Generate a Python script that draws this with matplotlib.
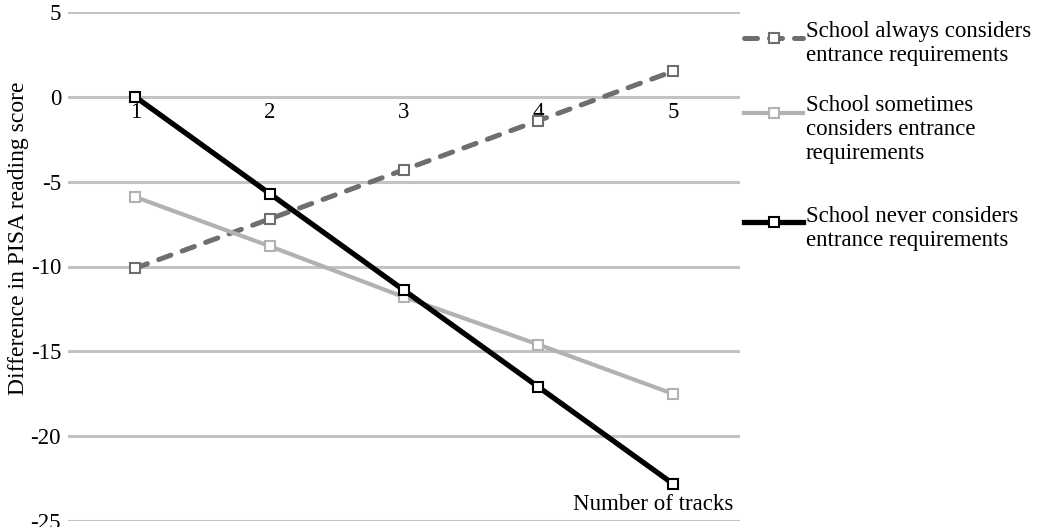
import matplotlib

matplotlib.use("Agg")
import matplotlib.pyplot as plt
from matplotlib.lines import Line2D

tracks = [1, 2, 3, 4, 5]
always = [-10.1, -7.2, -4.3, -1.4, 1.5]
sometimes = [-5.9, -8.8, -11.8, -14.6, -17.5]
never = [0.0, -5.7, -11.4, -17.1, -22.8]
y_ticks = [-25, -20, -15, -10, -5, 0, 5]

labels = [
    "School always considers\nentrance requirements",
    "School sometimes\nconsiders entrance\nrequirements",
    "School never considers\nentrance requirements",
]

plt.rcParams["font.family"] = ["Liberation Serif", "DejaVu Serif"]
plt.rcParams["font.size"] = 16.5
plt.rcParams["axes.unicode_minus"] = False

W, H = 1039, 527
fig = plt.figure(figsize=(W / 100, H / 100), dpi=100, facecolor="white")
ax = fig.add_axes([68 / W, 1 - 521 / H, (740 - 68) / W, (521 - 12) / H])

styles = [
    dict(color="#6e6e6e", lw=3.6, dashes=(2.6, 2.4), dash_capstyle="round",
         mec="#6e6e6e"),
    dict(color="#b2b2b2", lw=3.0, mec="#b2b2b2"),
    dict(color="black", lw=3.8, mec="black"),
]
series = [always, sometimes, never]

for values, style in zip(series, styles):
    ax.plot(tracks, values, marker="s", ms=7, mfc="white", mew=1.5,
            zorder=3, clip_on=False, **style)

ax.set_xlim(0.5, 5.5)
ax.set_ylim(-25, 5)
ax.set_yticks(y_ticks)
ax.set_xticks(tracks)
ax.yaxis.grid(True, color="#c3c3c3", lw=2.2)
ax.set_axisbelow(True)
for side in ["top", "right", "left", "bottom"]:
    ax.spines[side].set_visible(False)
ax.spines["bottom"].set_position(("data", 0))
ax.tick_params(axis="both", length=0)
ax.tick_params(axis="y", pad=5)
ax.tick_params(axis="x", pad=4)

ax.set_ylabel("Difference in PISA reading score", fontsize=17)
ax.yaxis.set_label_coords(-0.058, (521 - 238) / 509)
ax.text(0.99, 0.012, "Number of tracks", transform=ax.transAxes,
        ha="right", va="bottom")

# legend drawn by hand on the right
handle_y = [38, 113, 222]
text_top = [21, 95, 206]
for style, hy, ty, label in zip(styles, handle_y, text_top, labels):
    fy = 1 - hy / H
    line = Line2D([744 / W, 803 / W], [fy, fy], transform=fig.transFigure,
                  **{k: v for k, v in style.items() if k != "mec"})
    fig.add_artist(line)
    mark = Line2D([774 / W], [fy], transform=fig.transFigure, marker="s",
                  ms=7, mfc="white", mew=1.5, mec=style["mec"], ls="none")
    fig.add_artist(mark)
    fig.text(806 / W, 1 - ty / H, label, ha="left", va="top",
             linespacing=1.2)

fig.savefig("out.png", dpi=100, facecolor="white")
